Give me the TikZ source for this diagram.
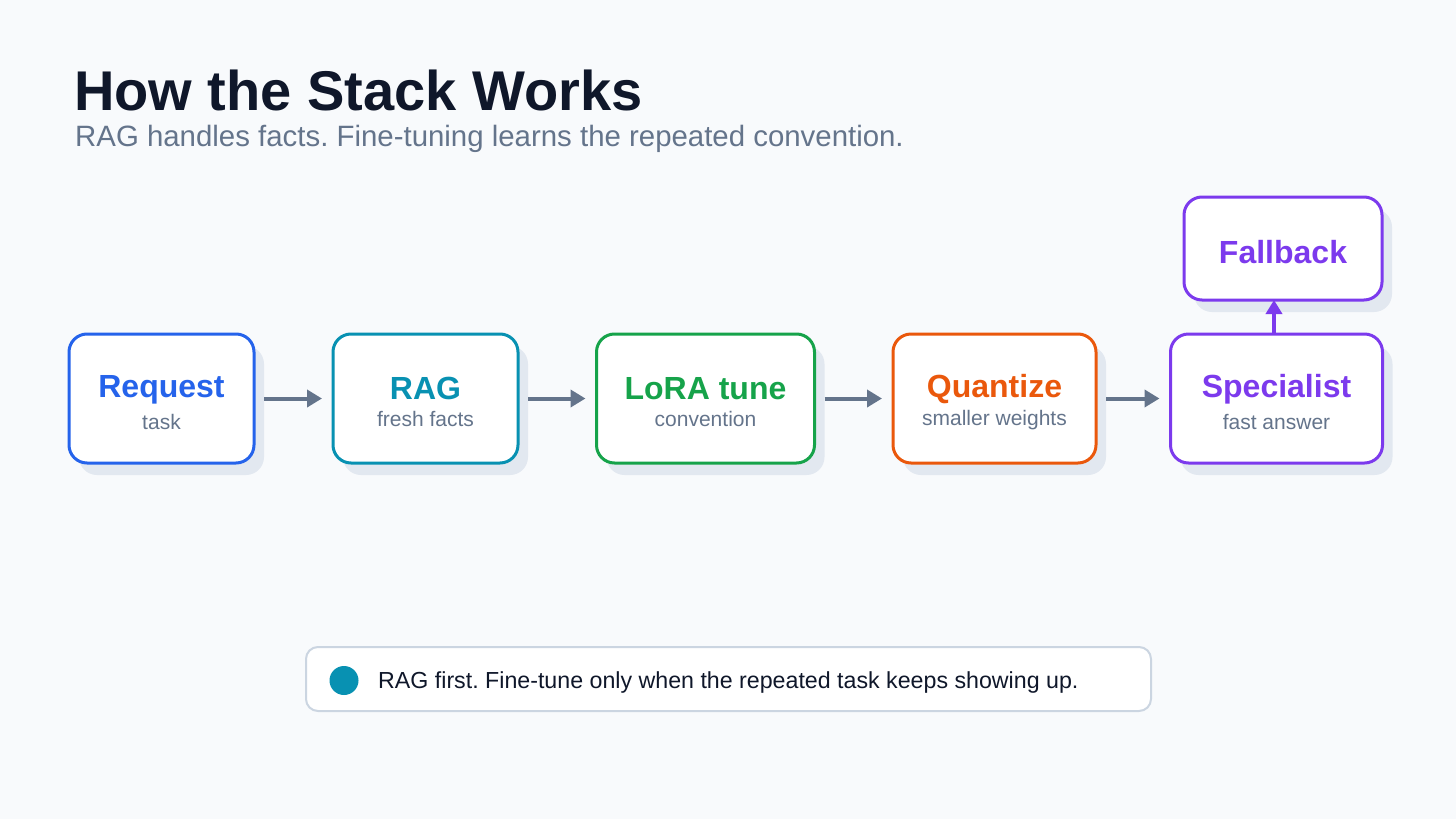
\documentclass[tikz,border=0pt]{standalone}
\usepackage{fontspec}
\setmainfont{Liberation Sans}
\usetikzlibrary{arrows.meta,shadows}
\definecolor{bgc}{HTML}{F8FAFC}
\definecolor{titlec}{HTML}{0F172A}
\definecolor{subc}{HTML}{64748B}
\definecolor{reqc}{HTML}{2563EB}
\definecolor{ragc}{HTML}{0891B2}
\definecolor{lorac}{HTML}{16A34A}
\definecolor{quantc}{HTML}{EA580C}
\definecolor{specc}{HTML}{7C3AED}
\definecolor{shadowc}{HTML}{E2E8F0}
\definecolor{legbc}{HTML}{CBD5E1}
\definecolor{arrc}{HTML}{64748B}
\frenchspacing
\begin{document}
\begin{tikzpicture}[x=1pt,y=-1pt,
  stagebox/.style={draw=#1, line width=3pt, fill=white, rounded corners=18pt,
    general shadow={shadow xshift=10pt, shadow yshift=-12pt, fill=shadowc},
    inner sep=0pt, outer sep=0pt},
  headtxt/.style={text=#1, font=\fontsize{32}{38}\selectfont\bfseries, anchor=base, inner sep=0pt},
  subtxt/.style={text=subc, font=\fontsize{21}{25}\selectfont, anchor=base, inner sep=0pt},
  flowarr/.style={draw=arrc, line width=4pt, -{Triangle[length=15pt,width=17pt]},
    shorten <=10pt, shorten >=11pt},
]
\fill[bgc] (0,0) rectangle (1456,819);
\useasboundingbox (0,0) rectangle (1456,819);

% title
\node[anchor=base west, inner sep=0pt, text=titlec, font=\fontsize{56}{64}\selectfont\bfseries] (title) at (74,110) {How the Stack Works};
\node[anchor=base west, inner sep=0pt, text=subc, font=\fontsize{29.4}{34}\selectfont] (subtitle) at (75,146) {RAG handles facts. Fine-tuning learns the repeated convention.};

% boxes
\node[stagebox=reqc, minimum width=185pt, minimum height=129pt] (req) at (161.5,398.5) {};
\node[stagebox=ragc, minimum width=185pt, minimum height=129pt] (rag) at (425.5,398.5) {};
\node[stagebox=lorac, minimum width=218pt, minimum height=129pt] (lora) at (705.5,398.5) {};
\node[stagebox=quantc, minimum width=203pt, minimum height=129pt] (quant) at (994.5,398.5) {};
\node[stagebox=specc, minimum width=212pt, minimum height=129pt] (spec) at (1276.5,398.5) {};
\node[stagebox=specc, minimum width=198pt, minimum height=103pt] (fall) at (1283,248.5) {};

% texts
\node[headtxt=reqc] (reqt) at (161.5,397) {Request};
\node[subtxt] (reqs) at (161.5,429) {task};
\node[headtxt=ragc] (ragt) at (425.5,399) {RAG};
\node[subtxt] (rags) at (425.5,426) {fresh facts};
\node[headtxt=lorac] (lorat) at (705.5,399) {LoRA tune};
\node[subtxt] (loras) at (705.5,426) {convention};
\node[headtxt=quantc] (quantt) at (994.5,397) {Quantize};
\node[subtxt] (quants) at (994.5,425) {smaller weights};
\node[headtxt=specc] (spect) at (1276.5,397) {Specialist};
\node[subtxt] (specs) at (1276.5,429) {fast answer};
\node[headtxt=specc] (fallt) at (1283,263) {Fallback};

% arrows
\draw[flowarr] (req) -- (rag);
\draw[flowarr] (rag) -- (lora);
\draw[flowarr] (lora) -- (quant);
\draw[flowarr] (quant) -- (spec);
\coordinate (specTop) at (1274,334);
\coordinate (fallBot) at (1274,300);
\draw[draw=specc, line width=3.5pt, -{Triangle[length=14pt,width=16pt]}] (specTop) -- (fallBot);

% legend
\node[draw=legbc, line width=2pt, fill=white, rounded corners=12pt, minimum width=845pt, minimum height=64pt, inner sep=0pt] (legend) at (728.5,679) {};
\node[circle, fill=ragc, minimum size=29pt, inner sep=0pt] (dot) at (344,680.5) {};
\node[anchor=base west, inner sep=0pt, text=titlec, font=\fontsize{23.2}{28}\selectfont] (legtxt) at (378,688) {RAG first. Fine-tune only when the repeated task keeps showing up.};
\end{tikzpicture}
\end{document}
